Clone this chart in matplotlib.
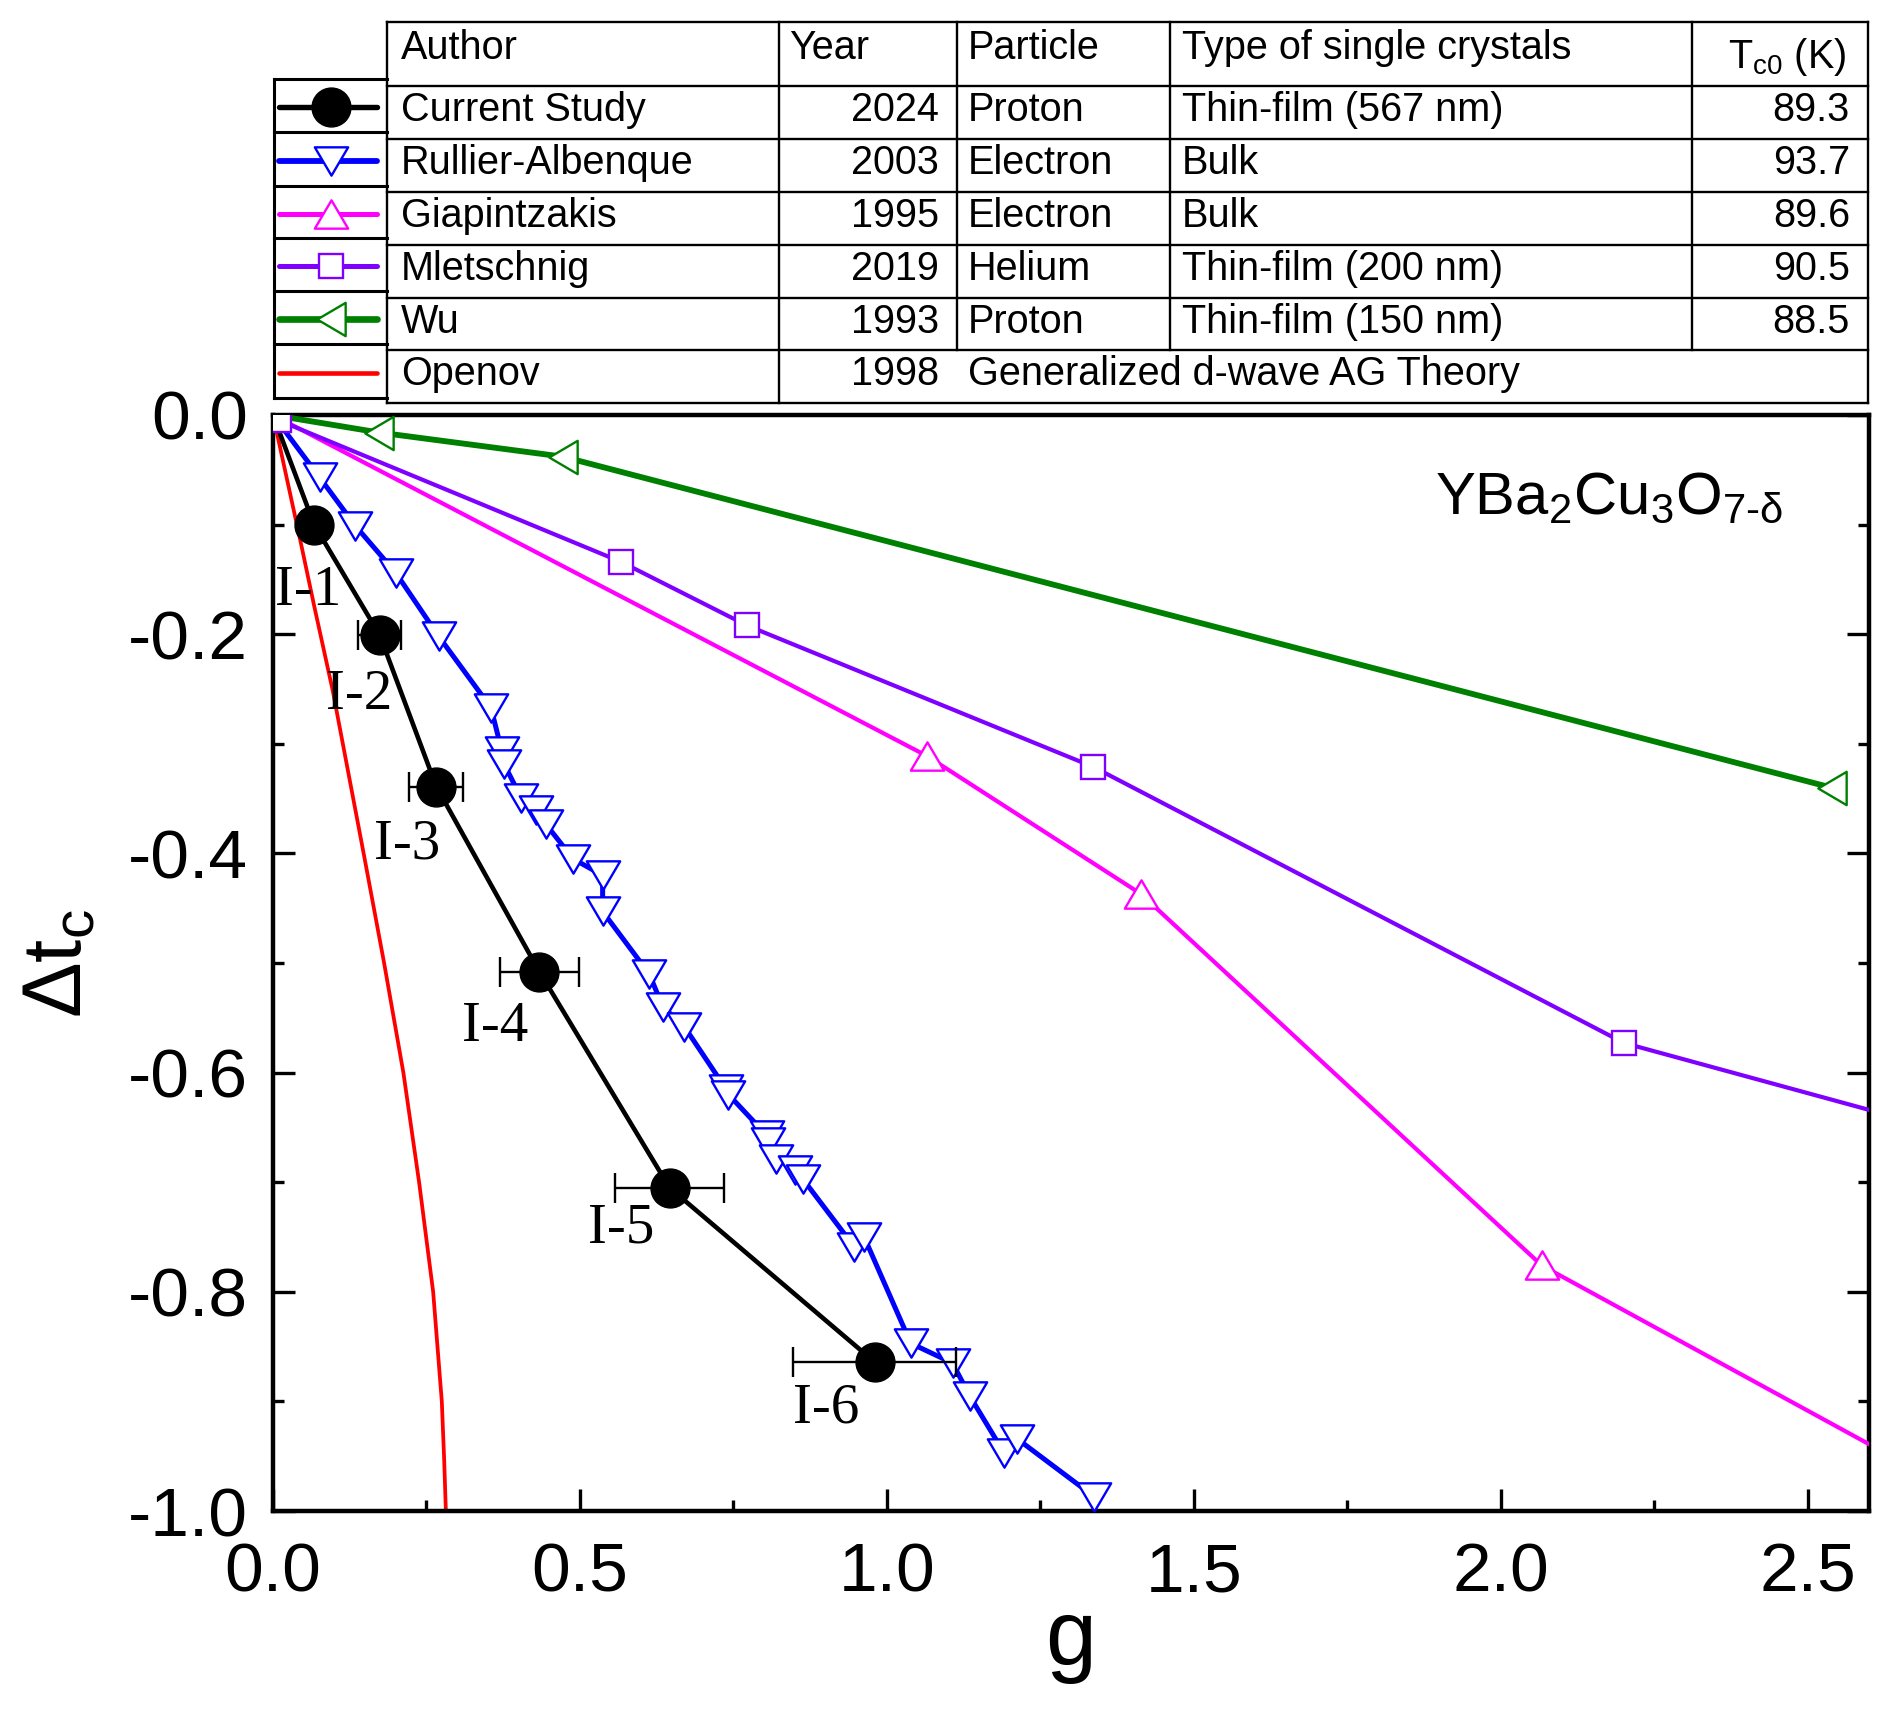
import matplotlib
matplotlib.use("Agg")
import matplotlib.pyplot as plt
from matplotlib.path import Path
from matplotlib.ticker import MultipleLocator, FormatStrFormatter

plt.rcParams['font.family'] = ['Liberation Sans', 'DejaVu Sans']
plt.rcParams['mathtext.fontset'] = 'custom'
plt.rcParams['mathtext.rm'] = 'Liberation Sans'
plt.rcParams['mathtext.it'] = 'Liberation Sans:italic'
plt.rcParams['axes.unicode_minus'] = False

# ---- data ----
cur_g = [0.0, 0.067, 0.174, 0.266, 0.434, 0.646, 0.980]
cur_dt = [0.0, -0.100, -0.201, -0.339, -0.508, -0.705, -0.864]
cur_gerr = [0.0, 0.02, 0.035, 0.044, 0.064, 0.089, 0.133]
cur_labels = ['I-1', 'I-2', 'I-3', 'I-4', 'I-5', 'I-6']
# label anchor (left, baseline) for each irradiation step
lab_g = [0.004, 0.086, 0.164, 0.3075, 0.513, 0.847]
lab_dt = [-0.173, -0.268, -0.405, -0.571, -0.755, -0.919]

ra_g = [0.0, 0.076, 0.134, 0.200, 0.270, 0.355, 0.373, 0.376, 0.404, 0.428,
        0.444, 0.489, 0.537, 0.537, 0.613, 0.635, 0.670, 0.738, 0.742, 0.804,
        0.806, 0.820, 0.851, 0.863, 0.947, 0.963, 1.039, 1.107, 1.135, 1.191,
        1.212, 1.338]
ra_dt = [0.0, -0.057, -0.101, -0.144, -0.202, -0.267, -0.307, -0.318, -0.349, -0.360,
         -0.373, -0.405, -0.420, -0.453, -0.510, -0.540, -0.558, -0.615, -0.620, -0.657,
         -0.663, -0.679, -0.689, -0.697, -0.759, -0.750, -0.847, -0.865, -0.895, -0.947,
         -0.934, -0.987]

gi_g = [0.0, 1.065, 1.414, 2.067, 2.6]
gi_dt = [0.0, -0.311, -0.437, -0.776, -0.939]

ml_g = [0.010, 0.567, 0.772, 1.336, 2.201, 2.6]
ml_dt = [-0.005, -0.134, -0.192, -0.321, -0.573, -0.634]

wu_g = [0.0, 0.173, 0.472, 2.539]
wu_dt = [0.0, -0.016, -0.038, -0.340]

op_g = [0.0, 0.0447, 0.067, 0.0975, 0.148, 0.181, 0.2124, 0.238, 0.2609, 0.275, 0.2789, 0.2816]
op_dt = [0.0, -0.115, -0.174, -0.252, -0.401, -0.500, -0.600, -0.700, -0.800, -0.900, -0.954, -1.000]

authors = ['Current Study', 'Rullier-Albenque', 'Giapintzakis', 'Mletschnig', 'Wu', 'Openov']
years = ['2024', '2003', '1995', '2019', '1993', '1998']
particles = ['Proton', 'Electron', 'Electron', 'Helium', 'Proton', 'Generalized d-wave AG Theory']
crystals = ['Thin-film (567 nm)', 'Bulk', 'Bulk', 'Thin-film (200 nm)', 'Thin-film (150 nm)', '']
tc0 = ['89.3', '93.7', '89.6', '90.5', '88.5', '']
headers = ['Author', 'Year', 'Particle', 'Type of single crystals', r'T$_\mathregular{c0}$ (K)']


def tri(verts):
    # closed triangle marker, slightly flatter than matplotlib's default
    return Path(verts + [verts[0]], closed=True)


tri_down = tri([(-1, 0.85), (1, 0.85), (0, -0.85)])
tri_up = tri([(-1, -0.85), (1, -0.85), (0, 0.85)])
tri_left = tri([(0.85, -1), (0.85, 1), (-0.85, 0)])

styles = [
    dict(color='black', lw=3.3, marker='o', ms=28, mfc='black', mec='black'),
    dict(color='#0000FF', lw=3.6, marker=tri_down, ms=24, mfc='white', mec='#0000FF', mew=1.7),
    dict(color='#FF00FF', lw=3.0, marker=tri_up, ms=24, mfc='white', mec='#FF00FF', mew=1.7),
    dict(color='#8000FF', lw=3.0, marker='s', ms=17.5, mfc='white', mec='#8000FF', mew=1.7),
    dict(color='#008000', lw=4.2, marker=tri_left, ms=24, mfc='white', mec='#008000', mew=1.7),
    dict(color='#FF0000', lw=2.7),
]

W, H = 1889, 1710
fig = plt.figure(figsize=(W / 100, H / 100), dpi=100)

ax_l, ax_r, ax_t, ax_b = 273, 1869, 415, 1511
ax = fig.add_axes([ax_l / W, 1 - ax_b / H, (ax_r - ax_l) / W, (ax_b - ax_t) / H])

ax.plot(op_g, op_dt, **styles[5], zorder=2)
ax.plot(wu_g, wu_dt, markevery=slice(1, None), **styles[4], zorder=3)
ax.plot(gi_g, gi_dt, markevery=slice(1, -1), **styles[2], zorder=3)
ax.plot(ra_g, ra_dt, markevery=slice(1, None), **styles[1], zorder=4)
ax.errorbar(cur_g[1:], cur_dt[1:], xerr=cur_gerr[1:], fmt='none', ecolor='black',
            elinewidth=1.7, capsize=11, capthick=1.7, zorder=5)
ax.plot(cur_g, cur_dt, markevery=slice(1, None), **styles[0], zorder=6)
ax.plot(ml_g, ml_dt, markevery=slice(0, -1), **styles[3], zorder=7)

for lab, x, y in zip(cur_labels, lab_g, lab_dt):
    ax.text(x, y, lab, family='Liberation Serif', fontsize=41, ha='left', va='baseline', zorder=8)

ax.text(0.728, 0.91, r'YBa$_\mathregular{2}$Cu$_\mathregular{3}$O$_{\text{7-δ}}$',
        transform=ax.transAxes, fontsize=43, ha='left', va='baseline')

ax.set_xlim(0, 2.6)
ax.set_ylim(-1.0, 0.0)
ax.xaxis.set_major_locator(MultipleLocator(0.5))
ax.xaxis.set_minor_locator(MultipleLocator(0.25))
ax.yaxis.set_major_locator(MultipleLocator(0.2))
ax.yaxis.set_minor_locator(MultipleLocator(0.1))
ax.xaxis.set_major_formatter(FormatStrFormatter('%.1f'))
ax.yaxis.set_major_formatter(FormatStrFormatter('%.1f'))
ax.tick_params(which='both', direction='in', top=False, right=True, width=2.4)
ax.tick_params(which='major', length=16, labelsize=50)
ax.tick_params(axis='x', which='major', pad=22)
ax.tick_params(axis='y', which='major', pad=18)
ax.tick_params(which='minor', length=8)
for s in ax.spines.values():
    s.set_linewidth(3.2)

ax.set_xlabel('g', fontsize=66)
ax.xaxis.label.set_va('baseline')
ax.xaxis.set_label_coords(0.5, (ax_b - 1665) / (ax_b - ax_t))
ax.set_ylabel(r'Δt$_\mathregular{c}$', fontsize=60)
ax.yaxis.label.set(rotation_mode='anchor', va='baseline', ha='center')
ax.yaxis.set_label_coords((81 - ax_l) / (ax_r - ax_l), 0.5)

# ---- table + legend column drawn in pixel space ----
ov = fig.add_axes([0, 0, 1, 1])
ov.set_xlim(0, W)
ov.set_ylim(H, 0)
ov.axis('off')

col_x = [387, 779, 957, 1170, 1692, 1868]
row_y = [22, 86, 139, 192, 245, 298, 350, 403]
leg_x0 = 274
leg_y = [79, 132, 186, 238, 291, 344, 398]
tlw = 1.7

# horizontal lines of table
for y in row_y:
    ov.plot([col_x[0], col_x[-1]], [y, y], color='black', lw=tlw)
# vertical lines: outer edges full height, inner ones depending on row span
ov.plot([col_x[0], col_x[0]], [row_y[0], row_y[-1]], color='black', lw=tlw)
ov.plot([col_x[-1], col_x[-1]], [row_y[0], row_y[-1]], color='black', lw=tlw)
ov.plot([col_x[1], col_x[1]], [row_y[0], row_y[-1]], color='black', lw=tlw)
for cx in col_x[2:5]:
    ov.plot([cx, cx], [row_y[0], row_y[-2]], color='black', lw=tlw)
# legend column
for y in leg_y:
    ov.plot([leg_x0, col_x[0]], [y, y], color='black', lw=2.2)
ov.plot([leg_x0, leg_x0], [leg_y[0], leg_y[-1]], color='black', lw=2.2)

fs = 28.5
# header
ov.text(col_x[0] + 14, row_y[0] + 37, headers[0], fontsize=fs, va='baseline')
ov.text(col_x[1] + 10, row_y[0] + 37, headers[1], fontsize=fs, va='baseline')
ov.text(col_x[2] + 11, row_y[0] + 37, headers[2], fontsize=fs, va='baseline')
ov.text(col_x[3] + 12, row_y[0] + 37, headers[3], fontsize=fs, va='baseline')
ov.text(col_x[5] - 22, row_y[0] + 46, headers[4], fontsize=fs, va='baseline', ha='right')

for i in range(6):
    yb = row_y[i + 1] + 35
    ov.text(col_x[0] + 14, yb, authors[i], fontsize=fs, va='baseline')
    ov.text(col_x[2] - 18, yb, years[i], fontsize=fs, va='baseline', ha='right')
    ov.text(col_x[2] + 11, yb, particles[i], fontsize=fs, va='baseline')
    if crystals[i]:
        ov.text(col_x[3] + 12, yb, crystals[i], fontsize=fs, va='baseline')
        ov.text(col_x[5] - 18, yb, tc0[i], fontsize=fs, va='baseline', ha='right')
    # legend sample
    yc = (leg_y[i] + leg_y[i + 1]) / 2 + 2
    st = dict(styles[i])
    mk = {k: st.pop(k) for k in ['marker', 'ms', 'mfc', 'mec', 'mew'] if k in st}
    ov.plot([leg_x0 + 5, col_x[0] - 10], [yc, yc], color=st['color'], lw=st['lw'] + 0.6,
            solid_capstyle='round')
    if 'marker' in mk:
        ov.plot([(leg_x0 + col_x[0]) / 2], [yc], ls='none', **mk)

fig.savefig('out.png', dpi=100)
